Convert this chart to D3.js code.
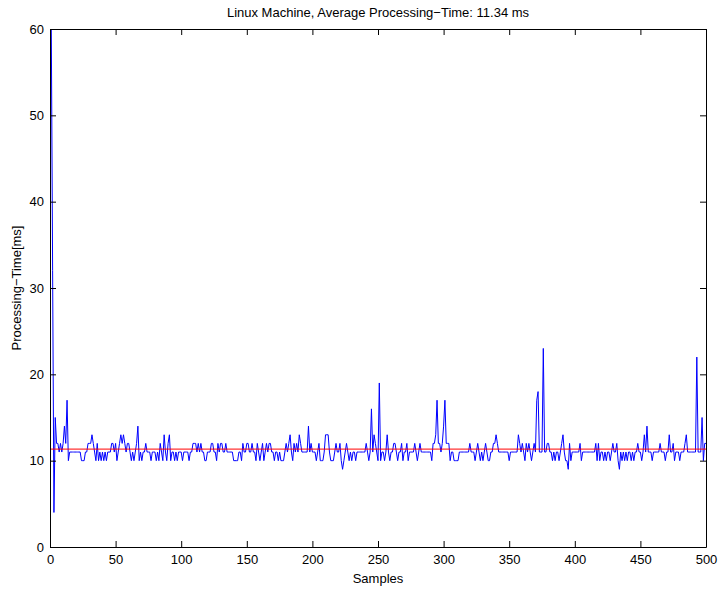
<!DOCTYPE html>
<meta charset="utf-8">
<style>
  body { margin: 0; background: #fff; }
  svg text { font-family: "Liberation Sans", Arial, Helvetica, sans-serif; font-size: 13px; fill: #000; }
  .axis path, .axis line { stroke: #000; }
</style>
<script src="https://cdnjs.cloudflare.com/ajax/libs/d3/7.8.5/d3.min.js"></script>
<svg id="chart"></svg>
<script>

// processing time per sample [ms], samples 1..500
var times = [
  60, 32, 4, 15, 12, 12, 11, 12, 11, 12,
  14, 12, 17, 10, 11, 11, 11, 11, 11, 11,
  11, 11, 11, 10, 10, 10, 11, 11, 12, 12,
  12, 13, 12, 11, 10, 12, 10, 11, 10, 11,
  10, 11, 10, 11, 11, 11, 12, 12, 11, 12,
  10, 11, 12, 13, 12, 13, 12, 11, 12, 12,
  11, 10, 11, 10, 11, 12, 14, 10, 11, 10,
  11, 11, 12, 11, 11, 11, 10, 11, 11, 11,
  10, 11, 10, 12, 11, 10, 13, 11, 10, 12,
  13, 10, 11, 11, 10, 11, 10, 11, 11, 11,
  10, 11, 11, 11, 11, 10, 11, 11, 12, 12,
  12, 11, 12, 11, 12, 11, 11, 10, 10, 11,
  11, 11, 12, 12, 11, 11, 10, 12, 11, 12,
  12, 11, 11, 12, 11, 11, 11, 11, 11, 10,
  10, 10, 10, 11, 11, 10, 12, 11, 11, 12,
  12, 11, 11, 12, 11, 11, 10, 12, 11, 10,
  11, 12, 10, 11, 12, 11, 12, 12, 11, 11,
  10, 11, 11, 10, 11, 10, 10, 10, 11, 12,
  11, 12, 13, 11, 10, 12, 11, 12, 11, 13,
  12, 11, 11, 11, 11, 11, 14, 11, 12, 11,
  11, 11, 10, 11, 12, 10, 10, 10, 11, 13,
  13, 13, 11, 10, 10, 10, 11, 12, 11, 11,
  12, 10, 9, 10, 11, 12, 11, 10, 11, 10,
  11, 11, 10, 11, 11, 11, 11, 11, 11, 11,
  12, 11, 10, 11, 16, 11, 13, 12, 11, 10,
  19, 10, 11, 11, 10, 11, 13, 11, 10, 11,
  11, 12, 12, 11, 10, 11, 11, 12, 10, 11,
  11, 12, 10, 11, 11, 11, 11, 12, 11, 10,
  11, 12, 11, 11, 11, 11, 11, 11, 11, 11,
  10, 12, 12, 13, 17, 12, 12, 11, 12, 14,
  17, 12, 12, 12, 10, 11, 11, 10, 10, 10,
  10, 11, 11, 11, 11, 11, 11, 11, 11, 12,
  11, 11, 11, 10, 11, 12, 11, 10, 11, 10,
  11, 12, 11, 10, 10, 11, 11, 12, 12, 13,
  12, 11, 11, 11, 11, 11, 11, 11, 11, 10,
  11, 11, 11, 11, 11, 11, 13, 12, 11, 12,
  11, 10, 12, 11, 12, 11, 10, 11, 12, 11,
  17, 18, 11, 11, 11, 23, 11, 11, 12, 12,
  11, 11, 10, 11, 10, 11, 11, 10, 11, 12,
  13, 11, 10, 10, 9, 12, 10, 11, 11, 11,
  11, 11, 11, 12, 10, 11, 11, 11, 11, 11,
  11, 11, 11, 11, 11, 12, 10, 12, 10, 11,
  11, 10, 11, 10, 11, 11, 10, 11, 12, 11,
  11, 12, 10, 9, 11, 10, 11, 10, 11, 10,
  11, 11, 10, 11, 10, 11, 11, 12, 11, 11,
  10, 11, 13, 11, 14, 11, 11, 11, 10, 11,
  11, 11, 11, 11, 12, 11, 11, 11, 10, 11,
  11, 13, 11, 11, 12, 10, 11, 11, 11, 10,
  11, 11, 11, 12, 13, 11, 11, 11, 11, 11,
  11, 11, 22, 11, 11, 11, 15, 10, 12, 12
];
var samples = times.map(function(d, i) { return i + 1; });
var avgTime = 11.34;

var xTicks = [0, 50, 100, 150, 200, 250, 300, 350, 400, 450, 500];
var yTicks = [0, 10, 20, 30, 40, 50, 60];

var titleText = "Linux Machine, Average Processing\u2212Time: 11.34 ms";
var xLabel = "Samples";
var yLabel = "Processing\u2212Time[ms]";

var width = 721, height = 590;
var margin = { top: 29, right: 15, bottom: 43, left: 50 };
var w = width - margin.left - margin.right,
    h = height - margin.top - margin.bottom;

var svg = d3.select("#chart").attr("width", width).attr("height", height);
var g = svg.append("g").attr("transform", "translate(" + margin.left + "," + margin.top + ")");

var x = d3.scaleLinear().domain([0, 500]).range([0, w]);
var y = d3.scaleLinear().domain([0, 60]).range([h, 0]);

// data line
var line = d3.line()
  .x(function(d, i) { return x(samples[i]); })
  .y(function(d) { return y(d); });

g.append("path")
  .datum(times)
  .attr("fill", "none")
  .attr("stroke", "#0000ff")
  .attr("stroke-width", 1)
  .attr("d", line);

// average line
g.append("line")
  .attr("x1", x(0)).attr("x2", x(500))
  .attr("y1", y(avgTime)).attr("y2", y(avgTime))
  .attr("stroke", "#ff0000")
  .attr("stroke-width", 1);

// axes, ticks inward on all sides (box)
var tk = 6;
g.append("g").attr("class", "axis")
  .attr("transform", "translate(0," + h + ")")
  .call(d3.axisBottom(x).tickValues(xTicks).tickSizeInner(-tk).tickSizeOuter(0).tickPadding(8));
g.append("g").attr("class", "axis")
  .call(d3.axisTop(x).tickValues(xTicks).tickSizeInner(-tk).tickSizeOuter(0).tickFormat(""));
g.append("g").attr("class", "axis")
  .call(d3.axisLeft(y).tickValues(yTicks).tickSizeInner(-tk).tickSizeOuter(0).tickPadding(6));
g.append("g").attr("class", "axis")
  .attr("transform", "translate(" + w + ",0)")
  .call(d3.axisRight(y).tickValues(yTicks).tickSizeInner(-tk).tickSizeOuter(0).tickFormat(""));

g.selectAll(".axis text").style("font-size", "13px").attr("font-family", null);

// titles
svg.append("text")
  .attr("x", margin.left + w / 2).attr("y", 17)
  .attr("text-anchor", "middle")
  .text(titleText);

svg.append("text")
  .attr("x", margin.left + w / 2).attr("y", 583)
  .attr("text-anchor", "middle")
  .text(xLabel);

svg.append("text")
  .attr("transform", "translate(21," + (margin.top + h / 2) + ") rotate(-90)")
  .attr("text-anchor", "middle")
  .text(yLabel);

</script>
